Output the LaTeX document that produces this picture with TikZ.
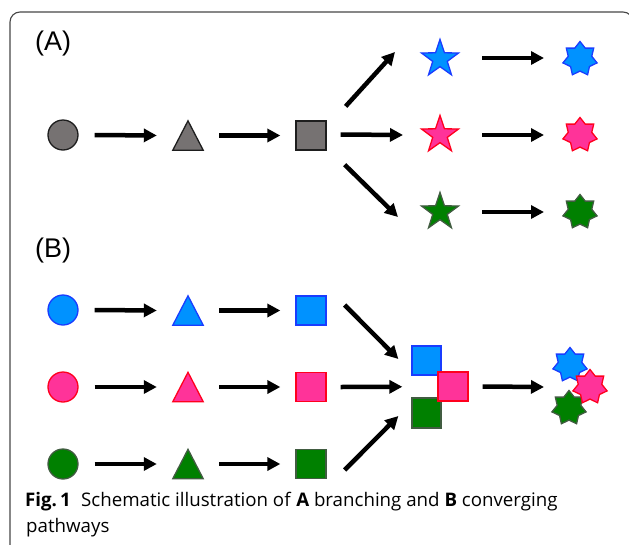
\documentclass[tikz,border=0pt]{standalone}
\usepackage{fontspec}
\setmainfont{Liberation Sans}
\newfontfamily\capfont{Open Sans}
\usetikzlibrary{shapes.geometric,arrows.meta,calc}

\definecolor{fillblue}{RGB}{0,146,255}
\definecolor{lineblue}{RGB}{25,60,255}
\definecolor{fillpink}{RGB}{255,51,153}
\definecolor{linepink}{RGB}{255,0,30}
\definecolor{fillgreen}{RGB}{0,128,0}
\definecolor{linegreen}{RGB}{65,92,65}
\definecolor{fillgray}{RGB}{118,114,114}
\definecolor{linegray}{RGB}{30,30,30}
\definecolor{framegray}{RGB}{70,70,70}

\tikzset{
  arr/.style={line width=4.5pt, -{Triangle[length=13pt,width=13pt]}},
  base/.style={line width=1.3pt, inner sep=0pt},
  dot/.style={base, circle, minimum size=30pt},
  box/.style={base, rectangle, minimum width=30pt, minimum height=29pt},
  slot/.style={inner sep=0pt, minimum width=30pt, minimum height=29pt},
  star5/.style={base, star, star points=5, star point ratio=2.55, minimum size=39pt},
  star7/.style={base, star, star points=7, star point ratio=1.45, minimum size=35pt},
  cgray/.style={draw=linegray, fill=fillgray},
  cblue/.style={draw=lineblue, fill=fillblue},
  cpink/.style={draw=linepink, fill=fillpink},
  cgreen/.style={draw=linegreen, fill=fillgreen},
  panel/.style={font=\fontsize{27}{30}\selectfont, anchor=base west, inner sep=0pt},
  caption/.style={font=\capfont\fontsize{18.7}{23}\selectfont, anchor=base west, inner sep=0pt},
}

\begin{document}
\begin{tikzpicture}[x=1pt, y=-1pt]
\useasboundingbox (0,0) rectangle (629,544);

% outer frame
\draw[framegray, line width=1.1pt, rounded corners=10pt] (10,570) -- (10,12) -- (633,12) -- (633,570);

% panel labels
\node[panel] (labA) at (35,50) {(A)};
\node[panel] (labB) at (35,257) {(B)};

% ---------- (A) branching ----------
\node[dot, cgray] (a1) at (63,135) {};
\node[slot] (a2) at (188,135.5) {};
\draw[base, cgray] (a2.south west) -- (a2.south east) -- (a2.north) -- cycle;
\node[box, cgray] (a3) at (311,135.5) {};

\node[star5, cblue]  (sb) at (440,59) {};
\node[star5, cpink]  (sr) at (440,135) {};
\node[star5, cgreen] (sg) at (440,212) {};

\node[star7, cblue]  (hb) at (580,59) {};
\node[star7, cpink]  (hr) at (580,135) {};
\node[star7, cgreen] (hg) at (580,212) {};

\draw[arr] ([xshift=16pt]a1.east) -- ([xshift=-16pt]a2.west);
\draw[arr] ([xshift=16pt]a2.east) -- ([xshift=-15pt]a3.west);
\draw[arr] ($(a3.north east)+(19,-14)$) -- ($(sb)+(-45,-7)$);
\draw[arr] ($(a3.east)+(14,-1)$) -- ($(sr)+(-37,0)$);
\draw[arr] ($(a3.south east)+(18,14)$) -- ($(sg)+(-42,5)$);
\draw[arr] ($(sb)+(42,-1)$) -- ($(hb)+(-36,-1)$);
\draw[arr] ($(sr)+(42,0)$) -- ($(hr)+(-36,0)$);
\draw[arr] ($(sg)+(42,0)$) -- ($(hg)+(-36,0)$);

% ---------- (B) converging ----------
\node[dot, cblue]  (b1) at (63,310) {};
\node[dot, cpink]  (r1) at (63,387) {};
\node[dot, cgreen] (g1) at (63,464) {};

\node[slot] (b2) at (188,310.5) {};
\node[slot] (r2) at (188,387) {};
\node[slot] (g2) at (188,464) {};
\draw[base, cblue]  (b2.south west) -- (b2.south east) -- (b2.north) -- cycle;
\draw[base, cpink]  (r2.south west) -- (r2.south east) -- (r2.north) -- cycle;
\draw[base, cgreen] (g2.south west) -- (g2.south east) -- (g2.north) -- cycle;

\node[box, cblue]  (b3) at (311,310.5) {};
\node[box, cpink]  (r3) at (311,387) {};
\node[box, cgreen] (g3) at (311,464) {};

\foreach \c in {b,r,g}{
  \draw[arr] ([xshift=16pt]\c1.east) -- ([xshift=-16pt]\c2.west);
  \draw[arr] ([xshift=16pt]\c2.east) -- ([xshift=-15pt]\c3.west);
}

% merged squares
\node[box, cblue, minimum width=29pt]  (qb) at (426.5,360.5) {};
\node[box, cgreen, minimum width=29pt, minimum height=30pt] (qg) at (426.5,413) {};
\node[box, cpink]  (qp) at (453,386.5) {};

\draw[arr] ($(b3.east)+(18,-5.5)$) -- ($(qb.west)+(-13,-1.5)$);
\draw[arr] ($(r3.east)+(14,0)$) -- ($(qb.west)!0.5!(qg.west)+(-9,0)$);
\draw[arr] ($(g3.east)+(18,6)$) -- ($(qg.west)+(-13,3)$);

% merged stars
\node[star7, cblue]  (kb) at (570,365) {};
\node[star7, cgreen] (kg) at (569,408) {};
\node[star7, cpink]  (kp) at (590,387) {};

\draw[arr] ($(qp.east)+(14,0)$) -- ($(kp)+(-46,0)$);

% caption
\node[caption] (cap1) at (25,506) {\textbf{Fig.\,1}\hspace{0.55em}Schematic illustration of \textbf{A} branching and \textbf{B} converging};
\node[caption] (cap2) at (26,532) {pathways};
\end{tikzpicture}
\end{document}
